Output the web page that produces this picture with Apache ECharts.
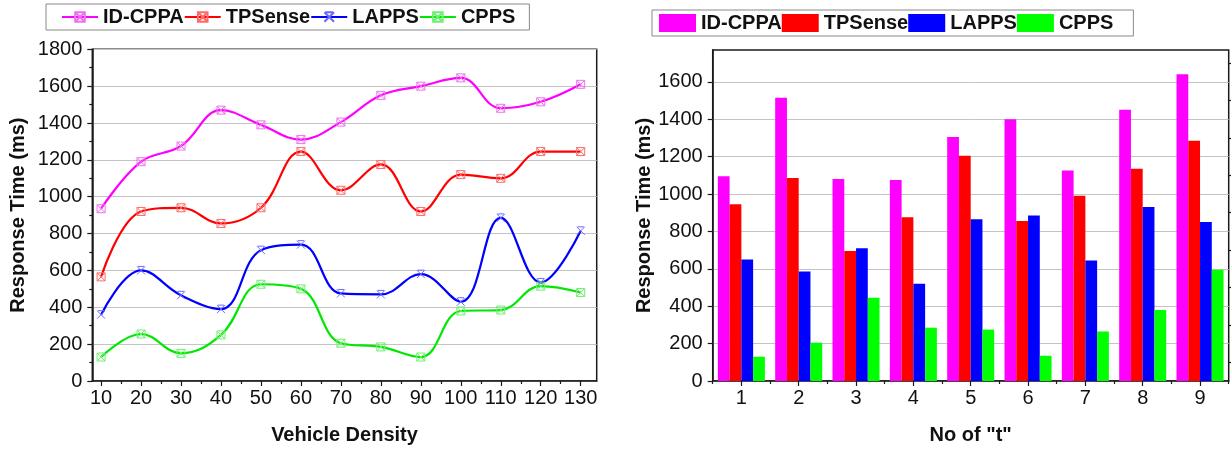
<!DOCTYPE html>
<html>
<head>
<meta charset="utf-8">
<script src="https://cdn.jsdelivr.net/npm/echarts@6/dist/echarts.min.js"></script>
<style>html,body{margin:0;padding:0;background:#fff;}#c{width:1231px;height:450px;}</style>
</head>
<body>
<div id="c"></div>
<script>
// ---- data ----
const seriesNames = ['ID-CPPA', 'TPSense', 'LAPPS', 'CPPS'];
const densities = [10, 20, 30, 40, 50, 60, 70, 80, 90, 100, 110, 120, 130];
const lineIDCPPA = [935, 1190, 1275, 1470, 1390, 1310, 1405, 1550, 1600, 1645, 1480, 1515, 1610];
const lineTPSense = [565, 920, 940, 855, 940, 1245, 1035, 1175, 920, 1120, 1100, 1245, 1245];
const lineLAPPS = [360, 600, 465, 390, 710, 740, 475, 470, 580, 430, 885, 535, 815];
const lineCPPS = [130, 255, 150, 250, 525, 500, 205, 185, 130, 380, 385, 515, 480];

const tCats = ['1', '2', '3', '4', '5', '6', '7', '8', '9'];
const barIDCPPA = [1095, 1515, 1080, 1075, 1305, 1400, 1125, 1450, 1640];
const barTPSense = [945, 1085, 695, 875, 1205, 855, 990, 1135, 1285];
const barLAPPS = [650, 585, 710, 520, 865, 885, 645, 930, 850];
const barCPPS = [130, 205, 445, 285, 275, 135, 265, 380, 595];

const rightYLabels = [0, 200, 400, 600, 800, 1000, 1200, 1400, 1600];
const rightYMinor = [100, 300, 500, 700, 900, 1100, 1300, 1500, 1700];
const leftXMinor = [15, 25, 35, 45, 55, 65, 75, 85, 95, 105, 115, 125];

// ---- style ----
const lineColors = ['#ff00ff', '#ff0000', '#0000ff', '#00e800'];
const markColors = ['#f070f0', '#ff6a6a', '#6a6aff', '#70f070'];
const barColors = ['#ff00ff', '#ff0000', '#0000ff', '#00ff00'];
const FONT = '"Liberation Sans", Arial, sans-serif';
const AX = '#1a1a1a';
const sqX = 'path://M0,0H10V10H0Z M0,0L10,10 M10,0L0,10';
const starX = 'path://M0,0L10,10 M10,0L0,10 M1,0H9';
const symbols = [sqX, sqX, starX, sqX];

const lineData = [lineIDCPPA, lineTPSense, lineLAPPS, lineCPPS];
const barData = [barIDCPPA, barTPSense, barLAPPS, barCPPS];

const plain = (v) => String(v);
const labelStyle = { fontSize: 20, color: '#111', fontFamily: FONT };
const nameStyle = { fontSize: 20, fontWeight: 'bold', color: '#111', fontFamily: FONT };

const series = [];
lineData.forEach((vals, i) => {
  series.push({
    name: seriesNames[i], type: 'line', xAxisIndex: 0, yAxisIndex: 0,
    data: densities.map((d, k) => [d, vals[k]]),
    smooth: 0.4,
    symbol: symbols[i], symbolSize: 8,
    lineStyle: { color: lineColors[i], width: 2.2 },
    itemStyle: { color: 'rgba(0,0,0,0)', borderColor: markColors[i], borderWidth: 1 },
    emphasis: { disabled: true }, z: 3 + i
  });
});
barData.forEach((vals, i) => {
  series.push({
    name: seriesNames[i], type: 'bar', xAxisIndex: 2, yAxisIndex: 1,
    data: vals, barGap: '0%', barCategoryGap: '18%',
    itemStyle: { color: barColors[i] },
    emphasis: { disabled: true }
  });
});

const option = {
  animation: false,
  backgroundColor: '#fff',
  textStyle: { fontFamily: FONT },
  legend: [
    {
      left: 46, top: 4, itemGap: 0, itemWidth: 36, itemHeight: 12,
      padding: [3, 14, 3, 15], borderColor: '#888', borderWidth: 1,
      textStyle: { fontSize: 20, fontWeight: 'bold', color: '#111', fontFamily: FONT, lineHeight: 20 },
      data: seriesNames.map((n) => ({ name: n })),
      selectedMode: false
    },
    {
      left: 652, top: 10, itemGap: 0, itemWidth: 37, itemHeight: 18,
      padding: [3, 20, 3, 7], borderColor: '#888', borderWidth: 1,
      textStyle: { fontSize: 20, fontWeight: 'bold', color: '#111', fontFamily: FONT, lineHeight: 20 },
      data: seriesNames.map((n, i) => ({ name: n, icon: 'rect', itemStyle: { color: barColors[i], borderWidth: 0 } })),
      selectedMode: false
    }
  ],
  grid: [
    { left: 92.3, right: 634.3, top: 49.3, bottom: 68.3, show: true, borderColor: AX, borderWidth: 1.5, backgroundColor: 'transparent' },
    { left: 712.7, right: 2.3, top: 50, bottom: 68.3, show: true, borderColor: AX, borderWidth: 1.5, backgroundColor: 'transparent' }
  ],
  xAxis: [
    {
      gridIndex: 0, type: 'value', min: 7.8, max: 134, position: 'bottom',
      axisLine: { show: true, lineStyle: { color: AX, width: 1.5 } },
      axisTick: { show: true, customValues: densities, length: 5, lineStyle: { color: AX, width: 1.2 } },
      axisLabel: Object.assign({ customValues: densities, margin: 7, formatter: plain }, labelStyle),
      splitLine: { show: false },
      name: 'Vehicle Density', nameLocation: 'middle', nameGap: 44, nameTextStyle: nameStyle
    },
    {
      gridIndex: 0, type: 'value', min: 7.8, max: 134, position: 'bottom',
      axisLine: { show: false },
      axisTick: { show: true, customValues: leftXMinor, length: 3, lineStyle: { color: AX, width: 1.2 } },
      axisLabel: { show: false }, splitLine: { show: false }
    },
    {
      gridIndex: 1, type: 'category', data: tCats, position: 'bottom',
      axisLine: { show: true, lineStyle: { color: AX, width: 1.5 } },
      axisTick: { show: true, alignWithLabel: true, length: 5, lineStyle: { color: AX, width: 1.2 } },
      axisLabel: Object.assign({ margin: 7 }, labelStyle),
      splitLine: { show: false },
      name: 'No of "t"', nameLocation: 'middle', nameGap: 44, nameTextStyle: nameStyle
    },
    {
      gridIndex: 1, type: 'category', data: tCats, position: 'bottom',
      axisLine: { show: false },
      axisTick: { show: true, alignWithLabel: false, length: 3, lineStyle: { color: AX, width: 1.2 } },
      axisLabel: { show: false }, splitLine: { show: false }
    }
  ],
  yAxis: [
    {
      gridIndex: 0, type: 'value', min: 0, max: 1800, interval: 200,
      axisLine: { show: true, lineStyle: { color: AX, width: 1.5 } },
      axisTick: { show: true, length: 5, lineStyle: { color: AX, width: 1.2 } },
      minorTick: { show: true, splitNumber: 2, length: 3, lineStyle: { color: AX, width: 1.2 } },
      axisLabel: Object.assign({ margin: 10, formatter: plain }, labelStyle),
      splitLine: { show: true, lineStyle: { color: '#c4c4c4', width: 1 } },
      name: 'Response Time (ms)', nameLocation: 'middle', nameGap: 64, nameRotate: 90, nameTextStyle: nameStyle
    },
    {
      gridIndex: 1, type: 'value', min: 0, max: 1770, interval: 200,
      axisLine: { show: true, lineStyle: { color: AX, width: 1.5 } },
      axisTick: { show: true, customValues: rightYLabels, length: 5, lineStyle: { color: AX, width: 1.2 } },
      axisLabel: Object.assign({ customValues: rightYLabels, margin: 10, formatter: plain }, labelStyle),
      splitLine: { show: true, lineStyle: { color: '#c4c4c4', width: 1 } },
      name: 'Response Time (ms)', nameLocation: 'middle', nameGap: 58, nameRotate: 90, nameTextStyle: nameStyle
    },
    {
      gridIndex: 1, type: 'value', min: 0, max: 1770, interval: 200,
      axisLine: { show: false },
      axisTick: { show: true, customValues: rightYMinor, length: 3, lineStyle: { color: AX, width: 1.2 } },
      axisLabel: { show: false }, splitLine: { show: false }
    }
  ],
  series: series
};

const chart = echarts.init(document.getElementById('c'), null, { renderer: 'canvas' });
chart.setOption(option);
</script>
</body>
</html>
